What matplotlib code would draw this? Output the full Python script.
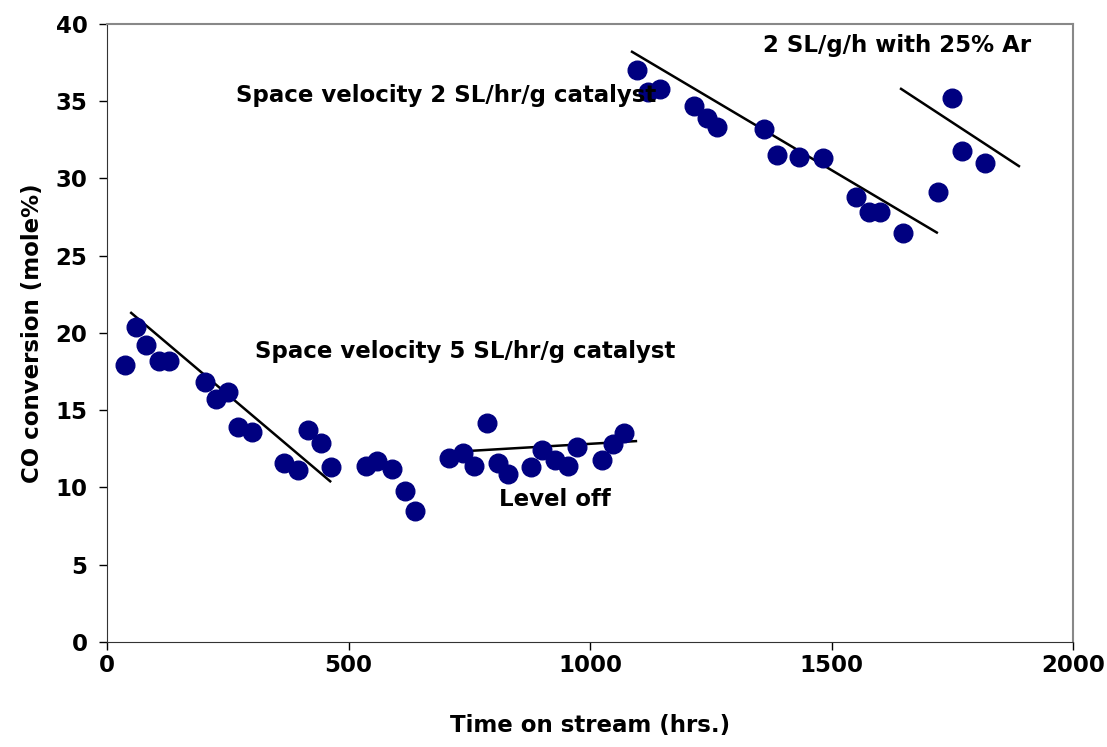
import matplotlib.pyplot as plt

plt.rcParams['font.family'] = ['DejaVu Sans']
plt.rcParams['font.weight'] = 'bold'

# Datos
tiempo = [37, 60, 81, 108, 128, 203, 226, 250, 271, 300, 366, 395, 416, 443, 464,
          536, 559, 590, 617, 638,
          708, 737, 760, 787, 810, 830, 878, 901, 928, 954, 973, 1025, 1048, 1070,
          1097, 1120, 1145, 1215, 1242, 1263, 1360, 1387, 1433, 1482, 1551, 1578, 1600, 1648,
          1720, 1749, 1770, 1818]
conversion = [17.9, 20.4, 19.2, 18.2, 18.2, 16.8, 15.7, 16.2, 13.9, 13.6, 11.6, 11.1, 13.7, 12.9, 11.3,
              11.4, 11.7, 11.2, 9.8, 8.5,
              11.9, 12.2, 11.4, 14.2, 11.6, 10.9, 11.3, 12.4, 11.8, 11.4, 12.6, 11.8, 12.8, 13.5,
              37.0, 35.6, 35.8, 34.7, 33.9, 33.3, 33.2, 31.5, 31.4, 31.3, 28.8, 27.8, 27.8, 26.5,
              29.1, 35.2, 31.8, 31.0]

# Lineas de tendencia (extremos)
tendencia_x = [[50, 462], [714, 1095], [1087, 1718], [1644, 1888]]
tendencia_y = [[21.3, 10.4], [12.3, 13.0], [38.2, 26.5], [35.8, 30.8]]

fig = plt.figure(figsize=(11.07, 7.47), dpi=100)
ax = fig.add_axes([0.0967, 0.1406, 0.8726, 0.8273])

ax.scatter(tiempo, conversion, s=180, color='#000080', zorder=3)
for tx, ty in zip(tendencia_x, tendencia_y):
    ax.plot(tx, ty, color='black', lw=1.8, zorder=2)

fs = 16.5
ax.text(267, 35.4, "Space velocity 2 SL/hr/g catalyst", fontsize=fs, fontweight='bold', va='center')
ax.text(1358, 38.6, "2 SL/g/h with 25% Ar", fontsize=fs, fontweight='bold', va='center')
ax.text(306, 18.8, "Space velocity 5 SL/hr/g catalyst", fontsize=fs, fontweight='bold', va='center')
ax.text(811, 9.2, "Level off", fontsize=fs, fontweight='bold', va='center')

ax.set_xlim(0, 2000)
ax.set_ylim(0, 40)
ax.set_xticks([0, 500, 1000, 1500, 2000])
ax.set_yticks(range(0, 41, 5))
ax.tick_params(labelsize=fs, direction='out', length=6, width=1)
ax.tick_params(axis='x', pad=3)
ax.tick_params(axis='y', pad=8)
for lab in ax.get_xticklabels() + ax.get_yticklabels():
    lab.set_fontweight('bold')

ax.set_xlabel("Time on stream (hrs.)", fontsize=fs, fontweight='bold', labelpad=26)
ax.set_ylabel("CO conversion (mole%)", fontsize=fs, fontweight='bold', labelpad=8)

ax.spines['left'].set_color('#333333')
ax.spines['bottom'].set_color('#333333')
ax.spines['top'].set_color('#888888')
ax.spines['right'].set_color('#888888')
ax.spines['top'].set_linewidth(1.5)
ax.spines['right'].set_linewidth(1.5)

plt.savefig("out.png", dpi=100)
